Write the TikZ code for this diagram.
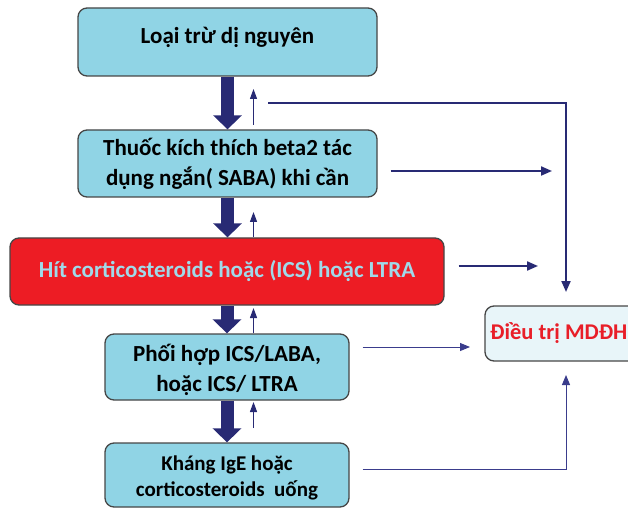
\documentclass[tikz,border=0pt]{standalone}
\usepackage{fontspec}
\setmainfont{Carlito}
\usetikzlibrary{arrows.meta}
\definecolor{boxblue}{RGB}{144,212,229}
\definecolor{boxedge}{RGB}{70,70,70}
\definecolor{navy}{RGB}{40,42,116}
\definecolor{thinnavy}{RGB}{58,60,140}
\definecolor{redbox}{RGB}{237,28,36}
\definecolor{redtext}{RGB}{160,218,234}
\definecolor{palebox}{RGB}{232,245,249}
\definecolor{mdred}{RGB}{232,30,40}
\tikzset{
  stepbox/.style={draw=boxedge, line width=1.3pt, fill=boxblue, rounded corners=9pt,
    inner sep=0pt},
  steptext/.style={inner sep=0pt, align=center, font=\bfseries\fontsize{23}{30}\selectfont, text=black},
  bigarrow/.style={draw=navy, line width=13pt, -{Triangle[width=28pt,length=14pt]}},
  backarrow/.style={draw=navy, line width=1.2pt, -{Triangle[width=7pt,length=10pt]}},
  sidearrow/.style={draw=navy, line width=2pt, -{Triangle[width=9pt,length=11pt]}},
  thinside/.style={draw=thinnavy, line width=1pt, -{Triangle[width=8pt,length=10pt]}},
}
\begin{document}
\begin{tikzpicture}[x=1pt,y=-1pt]
\useasboundingbox (0,0) rectangle (628,510);
\clip (0,0) rectangle (628,510);
% boxes
\node[stepbox, minimum width=299pt, minimum height=68pt] (b1) at (227.5,42) {};
\node[steptext, yshift=5pt] (b1t) at (b1.center) {Loại trừ dị nguyên};
\node[stepbox, minimum width=299pt, minimum height=67pt] (b2) at (227.5,163.5) {};
\node[steptext] (b2t) at (b2.center) {Thuốc kích thích beta2 tác\\dụng ngắn( SABA) khi cần};
\node[stepbox, fill=redbox, minimum width=434pt, minimum height=67pt] (b3) at (227,271.5) {};
\node[steptext, text=redtext] (b3t) at (b3.center) {Hít corticosteroids hoặc (ICS) hoặc LTRA};
\node[stepbox, minimum width=244pt, minimum height=66pt] (b4) at (227,367) {};
\node[steptext, yshift=-3pt] (b4t) at (b4.center) {Phối hợp ICS/LABA,\\hoặc ICS/ LTRA};
\node[stepbox, minimum width=244pt, minimum height=64pt] (b5) at (227,475) {};
\node[steptext, yshift=-3pt, font=\bfseries\fontsize{21}{25.5}\selectfont] (b5t) at (b5.center) {Kháng IgE hoặc\\corticosteroids\ \ uống};
\node[draw=boxedge, line width=1.3pt, fill=palebox, rounded corners=9pt,
  minimum width=160pt, minimum height=55pt, inner sep=0pt] (md) at (565,333.5) {};
\node[anchor=west, inner sep=0pt, text=mdred, font=\bfseries\fontsize{22.5}{26}\selectfont] (mdt) at (490,333.5) {Điều trị MDĐH};
% thick down arrows
\draw[bigarrow] (b1.south) -- (b2.north);
\draw[bigarrow] (b2.south) -- (b3.north -| b2.south);
\draw[bigarrow] (b3.south -| b4.north) -- (b4.north);
\draw[bigarrow] (b4.south) -- (b5.north);
% thin up arrows
\coordinate (u1a) at (253.5,125);
\coordinate (u1b) at (253.5,89);
\coordinate (u2b) at (253.5,212);
\coordinate (u3b) at (253.5,308);
\coordinate (u4a) at (253.5,428);
\coordinate (u4b) at (253.5,402);
\draw[backarrow] (u1a) -- (u1b);
\draw[backarrow] (b3.north -| u2b) -- (u2b);
\draw[backarrow] (b4.north -| u3b) -- (u3b);
\draw[backarrow] (u4a) -- (u4b);
% right side connectors
\coordinate (t0) at (268,103);
\coordinate (t1) at (566,292);
\coordinate (s2) at (552,171);
\coordinate (s3) at (538,266);
\coordinate (s4) at (470,347);
\coordinate (s5) at (566,375);
\draw[sidearrow] (t0) -| (t1);
\draw[sidearrow, shorten <=13pt] (b2.east |- s2) -- (s2);
\draw[sidearrow, shorten <=14pt] (b3.east |- s3) -- (s3);
\draw[thinside, shorten <=13pt] (b4.east |- s4) -- (s4);
\draw[thinside, shorten <=13pt] (b5.east |- 0,469) -| (s5);
\end{tikzpicture}
\end{document}
